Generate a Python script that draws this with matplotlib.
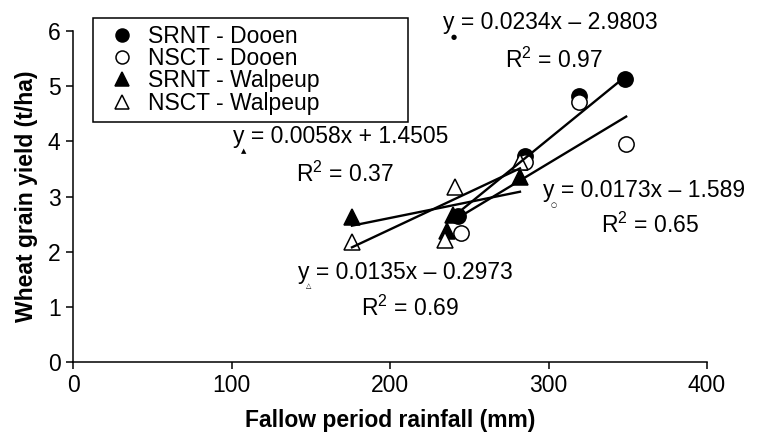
import numpy as np
import matplotlib
matplotlib.use("Agg")
import matplotlib.pyplot as plt

plt.rcParams['font.family'] = ['Liberation Sans', 'DejaVu Sans']
plt.rcParams['mathtext.fontset'] = 'custom'
plt.rcParams['mathtext.rm'] = 'Liberation Sans'
plt.rcParams['mathtext.it'] = 'Liberation Sans'

# data
srnt_dooen_x = [243, 285, 319, 348]
srnt_dooen_y = [2.64, 3.73, 4.82, 5.13]
nsct_dooen_x = [245, 285, 319, 349]
nsct_dooen_y = [2.33, 3.62, 4.71, 3.95]
srnt_walpeup_x = [176, 236, 240, 282]
srnt_walpeup_y = [2.62, 2.38, 2.66, 3.35]
nsct_walpeup_x = [176, 235, 241, 282]
nsct_walpeup_y = [2.18, 2.22, 3.18, 3.62]

labels = ["SRNT - Dooen", "NSCT - Dooen", "SRNT - Walpeup", "NSCT - Walpeup"]
slopes = [0.0234, 0.0173, 0.0058, 0.0135]
intercepts = [-2.9803, -1.589, 1.4505, -0.2973]
r2 = [0.97, 0.65, 0.37, 0.69]

W, H = 757, 434
fig = plt.figure(figsize=(W / 100, H / 100), dpi=100)
ax = fig.add_axes([73 / W, 1 - 362 / H, (707 - 73) / W, (362 - 31) / H])

FS = 16.5
series = [
    (srnt_dooen_x, srnt_dooen_y, 'o', 'black', 11),
    (nsct_dooen_x, nsct_dooen_y, 'o', 'white', 11),
    (srnt_walpeup_x, srnt_walpeup_y, '^', 'black', 12),
    (nsct_walpeup_x, nsct_walpeup_y, '^', 'white', 12),
]
for (xs, ys, m, fc, ms), lab in zip(series, labels):
    ax.plot(xs, ys, linestyle='none', marker=m, markersize=ms,
            markerfacecolor=fc, markeredgecolor='black', markeredgewidth=1.1,
            label=lab, zorder=3)

# trend lines
for (xs, ys, m, fc, ms), a, b in zip(series, slopes, intercepts):
    xl = np.array([min(xs), max(xs)])
    ax.plot(xl, a * xl + b, color='black', lw=1.7, zorder=4)

ax.set_xlim(0, 400)
ax.set_ylim(0, 6)
ax.set_xticks([0, 100, 200, 300, 400])
ax.set_yticks([0, 1, 2, 3, 4, 5, 6])
for s in ['top', 'right']:
    ax.spines[s].set_visible(False)
for s in ['left', 'bottom']:
    ax.spines[s].set_linewidth(1.1)
ax.tick_params(direction='out', length=5, width=1.1, labelsize=FS, pad=4)
ax.set_xlabel("Fallow period rainfall (mm)", fontsize=FS, fontweight='bold', labelpad=8)
ax.set_ylabel("Wheat grain yield (t/ha)", fontsize=FS, fontweight='bold', labelpad=7)

leg = ax.legend(loc='upper left', bbox_to_anchor=(93 / W, 1 - 18 / H, 315 / W, 0.0),
                bbox_transform=fig.transFigure, mode='expand', fontsize=FS,
                frameon=True, fancybox=False, framealpha=1, edgecolor='black',
                borderpad=0.3, labelspacing=-0.03, handlelength=1.9,
                handletextpad=0.2, borderaxespad=0, markerscale=0.85)
leg.get_frame().set_linewidth(1.1)


def ptext(x, y, s, **kw):
    fig.text(x / W, 1 - y / H, s, **kw)


# equations with small symbol subscripts
eq_pos = [(443, 23), (543, 191), (233, 137), (298, 272)]
r2_pos = [(554, 60), (650, 225), (345, 174), (410, 308)]
sym = ['\u25cf', '\u25cb', '\u25b2', '\u25b3']
for a, b, r, (ex, ey), (rx, ry), sy in zip(slopes, intercepts, r2, eq_pos, r2_pos, sym):
    sign = '+' if b >= 0 else '\u2013'
    ptext(ex, ey, f"y = {a:.4f}x {sign} {abs(b)}", fontsize=FS, ha='left', va='center')
    ptext(ex + 11, ey + 14, sy, fontsize=5, ha='center', va='center', family='DejaVu Sans')
    ptext(rx, ry, f"R$^2$ = {r:.2f}", fontsize=FS, ha='center', va='center')

fig.savefig("out.png", dpi=100)
